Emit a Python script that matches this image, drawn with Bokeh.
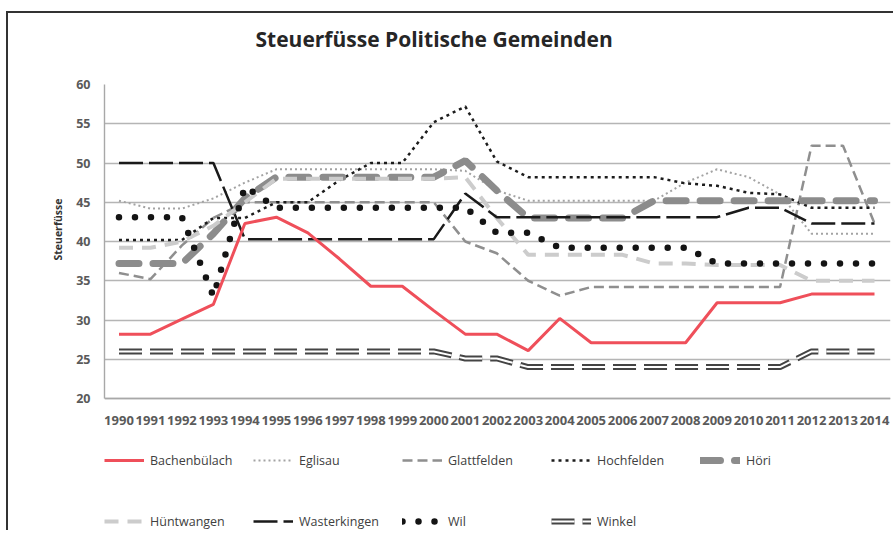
from bokeh.plotting import figure
from bokeh.models import Range1d, FixedTicker, Legend, LegendItem, Title
from bokeh.embed import file_html
from bokeh.resources import INLINE

# ---------------- data ----------------
years = [1990, 1991, 1992, 1993, 1994, 1995, 1996, 1997, 1998, 1999, 2000, 2001, 2002,
         2003, 2004, 2005, 2006, 2007, 2008, 2009, 2010, 2011, 2012, 2013, 2014]
year_labels = ["1990", "1991", "1992", "1993", "1994", "1995", "1996", "1997", "1998",
               "1999", "2000", "2001", "2002", "2003", "2004", "2005", "2006", "2007",
               "2008", "2009", "2010", "2011", "2012", "2013", "2014"]
y_ticks = [20, 25, 30, 35, 40, 45, 50, 55, 60]

bachenbuelach = [28.2, 28.2, 30.1, 32.0, 42.3, 43.1, 41.1, 37.8, 34.3, 34.3, 31.2, 28.2, 28.2,
                 26.1, 30.2, 27.1, 27.1, 27.1, 27.1, 32.2, 32.2, 32.2, 33.3, 33.3, 33.3]
eglisau = [45.2, 44.2, 44.2, 45.5, 47.5, 49.2, 49.2, 49.2, 49.2, 49.2, 49.2, 49, 46.5,
           45.2, 45.2, 45.2, 45.2, 45.2, 47.5, 49.2, 48.2, 46, 41, 41, 41]
glattfelden = [36, 35.2, 39.5, 43, 45, 45, 45, 45, 45, 45, 45, 40, 38.5,
               35, 33.1, 34.2, 34.2, 34.2, 34.2, 34.2, 34.2, 34.2, 52.2, 52.2, 42.3]
hochfelden = [40.2, 40.2, 40.2, 43, 43, 45, 45, 47.8, 50, 50, 55.2, 57.2, 50.2,
              48.2, 48.2, 48.2, 48.2, 48.2, 47.4, 47.1, 46.2, 46, 44.3, 44.3, 44.3]
hoeri = [37.2, 37.2, 37.2, 41, 45.5, 48.2, 48.2, 48.2, 48.2, 48.2, 48.2, 50.3, 46.5,
         43, 43, 43, 43, 45.2, 45.2, 45.2, 45.2, 45.2, 45.2, 45.2, 45.2]
huentwangen = [39.2, 39.2, 40, 42, 45, 48, 48, 48, 48, 48, 48, 48.2, 43,
               38.3, 38.3, 38.3, 38.3, 37.2, 37.2, 37, 37, 37, 35, 35, 35]
wasterkingen = [50, 50, 50, 50, 40.3, 40.3, 40.3, 40.3, 40.3, 40.3, 40.3, 46.1, 43.1,
                43.1, 43.1, 43.1, 43.1, 43.1, 43.1, 43.1, 44.3, 44.3, 42.3, 42.3, 42.3]
wil = [43.1, 43.1, 43.1, 33, 47, 44.3, 44.3, 44.3, 44.3, 44.3, 44.3, 44.3, 41.1,
       41.1, 39.2, 39.2, 39.2, 39.2, 39.2, 37.2, 37.2, 37.2, 37.2, 37.2, 37.2]
winkel = [26, 26, 26, 26, 26, 26, 26, 26, 26, 26, 26, 25.1, 25.1,
          24, 24, 24, 24, 24, 24, 24, 24, 24, 26, 26, 26]

# ---------------- figure ----------------
# The frame reaches down to the canvas bottom so the legend rows fit inside it;
# the x axis is pinned at y = 20.
W, H = 893, 530
p = figure(width=W, height=H, output_backend="svg", toolbar_location=None, title=None,
           x_range=Range1d(1989.54, 2014.508), y_range=Range1d(3.185, 60),
           min_border_left=104, min_border_right=3, min_border_top=84, min_border_bottom=0)
p.styles = {
    "background-image": "linear-gradient(#333333,#333333), linear-gradient(#333333,#333333)",
    "background-size": "2px 100%, 100% 2px",
    "background-position": "6px 12px, 6px 11px",
    "background-repeat": "no-repeat",
}
p.outline_line_color = None
p.background_fill_alpha = 0
p.border_fill_alpha = 0

p.xgrid.visible = False
p.ygrid.ticker = FixedTicker(ticks=y_ticks)
p.ygrid.grid_line_color = "#b5b5b5"
p.ygrid.grid_line_width = 1.4

p.xaxis.ticker = FixedTicker(ticks=years)
p.xaxis.major_label_overrides = {yr: lab for yr, lab in zip(years, year_labels)}
p.xaxis.fixed_location = 20
p.yaxis.ticker = FixedTicker(ticks=y_ticks)
p.yaxis.bounds = (20, 60)
for ax in (p.xaxis, p.yaxis):
    ax.major_tick_line_color = None
    ax.minor_tick_line_color = None
    ax.axis_line_color = "#a8a8a8"
    ax.axis_line_width = 1.4
    ax.major_label_text_font = "Open Sans"
    ax.major_label_text_font_style = "bold"
    ax.major_label_text_color = "#5a5a5a"
p.xaxis.major_label_text_font_size = "13px"
p.xaxis.major_label_standoff = 11
p.yaxis.major_label_text_font_size = "12.5px"
p.yaxis.major_label_standoff = 8

# y axis title, placed in the left panel next to the tick labels
y_title = Title(text="Steuerfüsse", align="right", offset=114, standoff=18,
                text_font="Open Sans", text_font_size="10.5px", text_font_style="bold",
                text_color="#333333")
p.add_layout(y_title, "left")

# ---------------- series ----------------
r_egl = p.line(years, eglisau, line_color="#a3a3a3", line_width=2, line_dash="2 3")
r_gla = p.line(years, glattfelden, line_color="#8f8f8f", line_width=2.5, line_dash="10 5")
r_hoc = p.line(years, hochfelden, line_color="#1c1c1c", line_width=2.5, line_dash="3 4")
r_hoe = p.line(years, hoeri, line_color="#8c8c8c", line_width=7, line_dash="20 14",
               line_cap="round")
r_hue = p.line(years, huentwangen, line_color="#cccccc", line_width=4, line_dash="14 9")
r_was = p.line(years, wasterkingen, line_color="#1a1a1a", line_width=2.5, line_dash="24 6")
r_wil = p.line(years, wil, line_color="#141414", line_width=6.5, line_dash="0 16",
               line_cap="round")
r_win1 = p.line(years, winkel, line_color="#444444", line_width=6, line_dash="23 8")
r_win2 = p.line(years, winkel, line_color="white", line_width=2, line_dash="23 8")
r_bac = p.line(years, bachenbuelach, line_color="#ef4f5a", line_width=3)

# ---------------- legend (two rows) ----------------
items1 = [
    LegendItem(label="Bachenbülach", renderers=[r_bac]),
    LegendItem(label="Eglisau", renderers=[r_egl]),
    LegendItem(label="Glattfelden", renderers=[r_gla]),
    LegendItem(label="Hochfelden", renderers=[r_hoc]),
    LegendItem(label="Höri", renderers=[r_hoe]),
]
items2 = [
    LegendItem(label="Hüntwangen", renderers=[r_hue]),
    LegendItem(label="Wasterkingen", renderers=[r_was]),
    LegendItem(label="Wil", renderers=[r_wil]),
    LegendItem(label="Winkel", renderers=[r_win1, r_win2]),
]
common = dict(orientation="horizontal", glyph_width=40, glyph_height=18,
              label_width=93, label_height=18, label_standoff=6, spacing=10,
              padding=0, margin=0, border_line_color=None, background_fill_alpha=0,
              label_text_font="Open Sans", label_text_font_size="12.5px",
              label_text_color="#404040")
legend1 = Legend(items=items1, location=(0, 61), **common)
legend2 = Legend(items=items2, location=(0, 0), **common)
p.add_layout(legend1)
p.add_layout(legend2)

# ---------------- title ----------------
spacer = Title(text=" ", text_font_size="26px", standoff=0)
p.add_layout(spacer, "above")
main_title = Title(text="Steuerfüsse Politische Gemeinden", align="left", offset=151,
                   text_font="Open Sans", text_font_size="21px", text_font_style="bold",
                   text_color="#262626", standoff=0)
p.add_layout(main_title, "above")

open("out.html", "w").write(file_html(p, INLINE))
